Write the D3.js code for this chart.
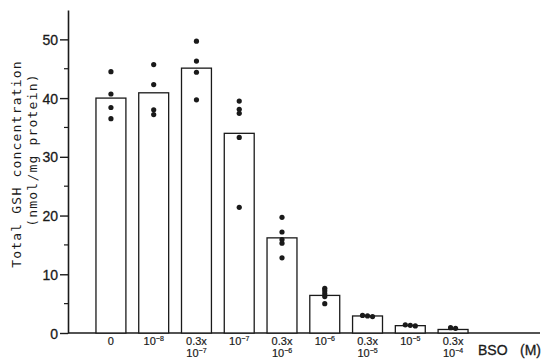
<!DOCTYPE html>
<html>
<head>
<meta charset="utf-8">
<script src="https://cdn.jsdelivr.net/npm/d3@7"></script>
<style>
  html, body { margin: 0; padding: 0; background: #fff; }
  svg { display: block; }
</style>
</head>
<body>
<div id="chart"></div>
<script>
// BSO concentrations (M)
const categories = ["0", "1e-8", "0.3e-7", "1e-7", "0.3e-6", "1e-6", "0.3e-5", "1e-5", "0.3e-4"];
// tick labels: each line is [text, superscript]
const tickLabels = [
    [["0", ""]],
    [["10", "−8"]],
    [["0.3x", ""], ["10", "−7"]],
    [["10", "−7"]],
    [["0.3x", ""], ["10", "−6"]],
    [["10", "−6"]],
    [["0.3x", ""], ["10", "−5"]],
    [["10", "−5"]],
    [["0.3x", ""], ["10", "−4"]]
];
// mean total GSH (nmol/mg protein)
const means = [40.0, 40.9, 45.1, 34.0, 16.2, 6.4, 2.9, 1.25, 0.6];
// individual experiments
const points = [
    [44.5, 40.7, 38.4, 36.5],
    [45.7, 42.3, 38.0, 37.2],
    [49.7, 46.3, 44.4, 39.7],
    [39.5, 38.1, 37.4, 33.3, 21.4],
    [19.7, 17.2, 15.9, 15.3, 12.8],
    [7.6, 7.2, 6.7, 6.2, 5.0],
    [3.0, 2.9, 2.8],
    [1.4, 1.3, 1.2],
    [0.9, 0.8]
];
const yTicks = [0, 10, 20, 30, 40, 50];
const yMinorTicks = [5, 15, 25, 35, 45];

const width = 542, height = 361;
const ink = "#1a1a1a";
const sans = "Liberation Sans, Arial, sans-serif";

const svg = d3.select("#chart").append("svg")
    .attr("width", width)
    .attr("height", height);

const x = d3.scaleBand()
    .domain(categories)
    .range([81, 483])
    .paddingInner(0.3)
    .paddingOuter(0.35);

const y = d3.scaleLinear()
    .domain([0, 55])
    .range([333, 10]);

// y axis
const yAxis = svg.append("g")
    .attr("transform", `translate(68,0)`)
    .call(d3.axisLeft(y).tickValues(yTicks).tickSize(8).tickPadding(2).tickSizeOuter(0));
yAxis.select(".domain").attr("stroke", ink).attr("stroke-width", 1.6);
yAxis.selectAll(".tick line").attr("stroke", ink).attr("stroke-width", 1.4);
yAxis.selectAll(".tick text")
    .attr("fill", ink)
    .attr("stroke", ink)
    .attr("stroke-width", 0.3)
    .attr("font-family", sans)
    .attr("font-size", 14)
    .attr("dy", "0.36em");

svg.append("g")
    .selectAll("line")
    .data(yMinorTicks)
    .join("line")
    .attr("x1", 64).attr("x2", 68)
    .attr("y1", d => y(d)).attr("y2", d => y(d))
    .attr("stroke", ink).attr("stroke-width", 1.2);

// x axis baseline
svg.append("line")
    .attr("x1", 68).attr("x2", 540)
    .attr("y1", y(0)).attr("y2", y(0))
    .attr("stroke", ink).attr("stroke-width", 1.6);

// bars
svg.append("g")
    .selectAll("rect")
    .data(means)
    .join("rect")
    .attr("x", (d, i) => x(categories[i]))
    .attr("y", d => y(d))
    .attr("width", x.bandwidth())
    .attr("height", d => y(0) - y(d))
    .attr("fill", "#fff")
    .attr("stroke", ink)
    .attr("stroke-width", 1.3);

// dots, spread sideways when they overlap
const dots = [];
points.forEach((vals, i) => {
    const cx = x(categories[i]) + x.bandwidth() / 2;
    const sorted = vals.slice().sort((a, b) => b - a);
    let clusters = [];
    sorted.forEach(v => {
        const last = clusters[clusters.length - 1];
        if (last && Math.abs(y(v) - y(last[last.length - 1])) < 1.5) last.push(v);
        else clusters.push([v]);
    });
    clusters.forEach(c => {
        c.forEach((v, j) => {
            dots.push({ x: cx + (j - (c.length - 1) / 2) * 5, y: y(v) });
        });
    });
});

svg.append("g")
    .selectAll("circle")
    .data(dots)
    .join("circle")
    .attr("cx", d => d.x)
    .attr("cy", d => d.y)
    .attr("r", 2.6)
    .attr("fill", ink);

// x tick labels
const labels = svg.append("g")
    .attr("font-family", sans)
    .attr("font-size", 11)
    .attr("fill", ink)
    .attr("stroke", ink)
    .attr("stroke-width", 0.2)
    .attr("text-anchor", "middle");

tickLabels.forEach((lines, i) => {
    const cx = x(categories[i]) + x.bandwidth() / 2;
    lines.forEach((ln, j) => {
        const t = labels.append("text")
            .attr("x", cx)
            .attr("y", 345 + j * 12);
        t.append("tspan").text(ln[0]);
        if (ln[1]) {
            t.append("tspan")
                .attr("font-size", 7)
                .attr("dy", -4)
                .text(ln[1]);
        }
    });
});

svg.append("g")
    .attr("font-family", sans)
    .attr("font-size", 14)
    .attr("fill", ink)
    .attr("stroke", ink)
    .attr("stroke-width", 0.3)
    .selectAll("text")
    .data([["BSO", 478], ["(M)", 520]])
    .join("text")
    .attr("x", d => d[1]).attr("y", 355)
    .text(d => d[0]);

// y axis title
const title = svg.append("g")
    .attr("font-family", "DejaVu Sans Mono, monospace")
    .attr("font-size", 13)
    .attr("letter-spacing", 1.2)
    .attr("fill", ink)
    .attr("text-anchor", "middle");
title.append("text")
    .attr("transform", "translate(21,164) rotate(-90)")
    .text("Total GSH concentration");
title.append("text")
    .attr("transform", "translate(37,150) rotate(-90)")
    .text("(nmol/mg protein)");
</script>
</body>
</html>
